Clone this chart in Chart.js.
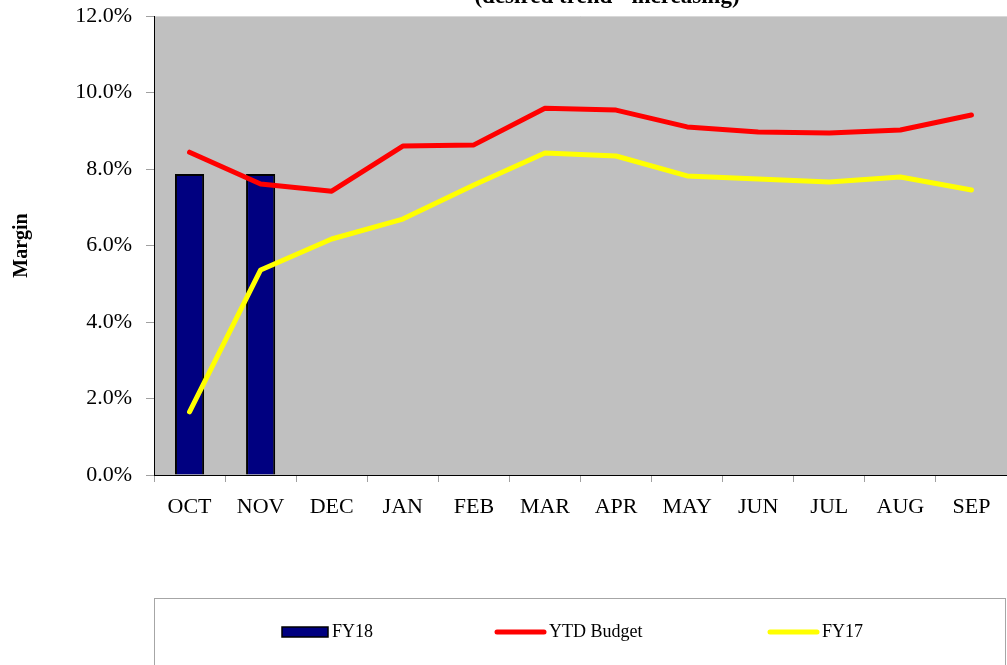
<!DOCTYPE html>
<html><head><meta charset="utf-8">
<script src="https://cdn.jsdelivr.net/npm/chart.js@4.4.0/dist/chart.umd.min.js"></script>
<style>html,body{margin:0;padding:0;background:#fff}#wrap{width:1007px;height:665px;position:relative}</style>
</head><body><div id="wrap"><canvas id="c" width="1007" height="665"></canvas></div>
<script>
const categories = ["OCT","NOV","DEC","JAN","FEB","MAR","APR","MAY","JUN","JUL","AUG","SEP"];
const fy18 = [7.87, 7.87, null, null, null, null, null, null, null, null, null, null];
const ytdBudget = [8.44, 7.61, 7.42, 8.60, 8.63, 9.59, 9.54, 9.10, 8.97, 8.94, 9.02, 9.41];
const fy17 = [1.65, 5.36, 6.17, 6.69, 7.58, 8.42, 8.34, 7.82, 7.74, 7.66, 7.79, 7.45];
const yTicks = [0, 2, 4, 6, 8, 10, 12];
const titleText = "(desired trend - increasing)";
const yTitle = "Margin";

const SERIF = "'Liberation Serif', 'DejaVu Serif', serif";

const bgPlugin = {
  id: 'bg',
  beforeDraw(chart) {
    const {ctx, chartArea: a} = chart;
    ctx.save();
    ctx.fillStyle = '#C0C0C0';
    ctx.fillRect(a.left, a.top, a.right - a.left, a.bottom - a.top);
    ctx.strokeStyle = '#D8D8D8';
    ctx.lineWidth = 1;
    ctx.beginPath(); ctx.moveTo(a.left, a.top + 0.5); ctx.lineTo(a.right, a.top + 0.5); ctx.stroke();
    ctx.restore();
  },
  afterDraw(chart) {
    const {ctx} = chart;
    ctx.save();
    ctx.font = "bold 23px " + SERIF;
    ctx.fillStyle = '#000';
    ctx.textAlign = 'center';
    ctx.textBaseline = 'alphabetic';
    ctx.fillText(titleText, 607, 3);
    ctx.strokeStyle = '#A6A6A6';
    ctx.lineWidth = 1;
    ctx.strokeRect(154.5, 598.5, 851, 80);
    const y = 632;
    ctx.font = "18px " + SERIF;
    ctx.textAlign = 'left';
    ctx.textBaseline = 'middle';
    const ds = chart.data.datasets;
    ctx.fillStyle = ds[0].backgroundColor;
    ctx.fillRect(282, 627, 46, 10);
    ctx.strokeStyle = '#000'; ctx.lineWidth = 1.5;
    ctx.strokeRect(282, 627, 46, 10);
    ctx.fillStyle = '#000';
    ctx.fillText(ds[0].label, 332, y);
    const drawLine = (d, x0, x1, tx) => {
      ctx.strokeStyle = d.borderColor; ctx.lineWidth = 5; ctx.lineCap = 'round';
      ctx.beginPath(); ctx.moveTo(x0, y); ctx.lineTo(x1, y); ctx.stroke();
      ctx.fillStyle = '#000';
      ctx.fillText(d.label, tx, y);
    };
    drawLine(ds[1], 497, 544, 549);
    drawLine(ds[2], 770, 817, 822);
    ctx.restore();
  }
};

new Chart(document.getElementById('c'), {
  data: {
    labels: categories,
    datasets: [
      { type: 'bar', label: 'FY18', data: fy18, backgroundColor: '#000080', borderColor: '#000000', borderWidth: 2,
        barPercentage: 0.41, categoryPercentage: 1.0, order: 3 },
      { type: 'line', label: 'YTD Budget', data: ytdBudget, borderColor: '#FF0000', backgroundColor: '#FF0000', borderWidth: 5,
        pointRadius: 0, tension: 0, borderCapStyle: 'round', borderJoinStyle: 'round', order: 2 },
      { type: 'line', label: 'FY17', data: fy17, borderColor: '#FFFF00', backgroundColor: '#FFFF00', borderWidth: 5,
        pointRadius: 0, tension: 0, borderCapStyle: 'round', borderJoinStyle: 'round', order: 1 }
    ]
  },
  options: {
    responsive: false,
    animation: false,
    layout: { padding: { top: 16, right: 0, left: 0, bottom: 0 } },
    plugins: { legend: { display: false }, title: { display: false }, tooltip: { enabled: false } },
    scales: {
      x: {
        offset: true,
        grid: { display: true, drawOnChartArea: false, offset: true, tickLength: 7, color: '#A0A0A0' },
        border: { color: '#000', width: 1 },
        ticks: { color: '#000', font: { family: SERIF, size: 22 }, padding: 12, maxRotation: 0 },
        afterFit(s) { s.height = 190; s.paddingLeft = 0; s.paddingRight = 0; }
      },
      y: {
        min: 0, max: 12,
        afterBuildTicks(s) { s.ticks = yTicks.map(v => ({ value: v })); },
        grid: { display: true, drawOnChartArea: false, tickLength: 8, color: '#A0A0A0' },
        border: { color: '#000', width: 1 },
        ticks: { color: '#000', font: { family: SERIF, size: 22 }, padding: 14,
          callback: v => v.toFixed(1) + '%' },
        title: { display: true, text: yTitle, color: '#000', font: { family: SERIF, size: 20, weight: 'bold' }, padding: { top: 10, bottom: 0 } },
        afterFit(s) { s.width = 154; s.paddingTop = 0; s.paddingBottom = 0; }
      }
    }
  },
  plugins: [bgPlugin]
});
</script></body></html>
